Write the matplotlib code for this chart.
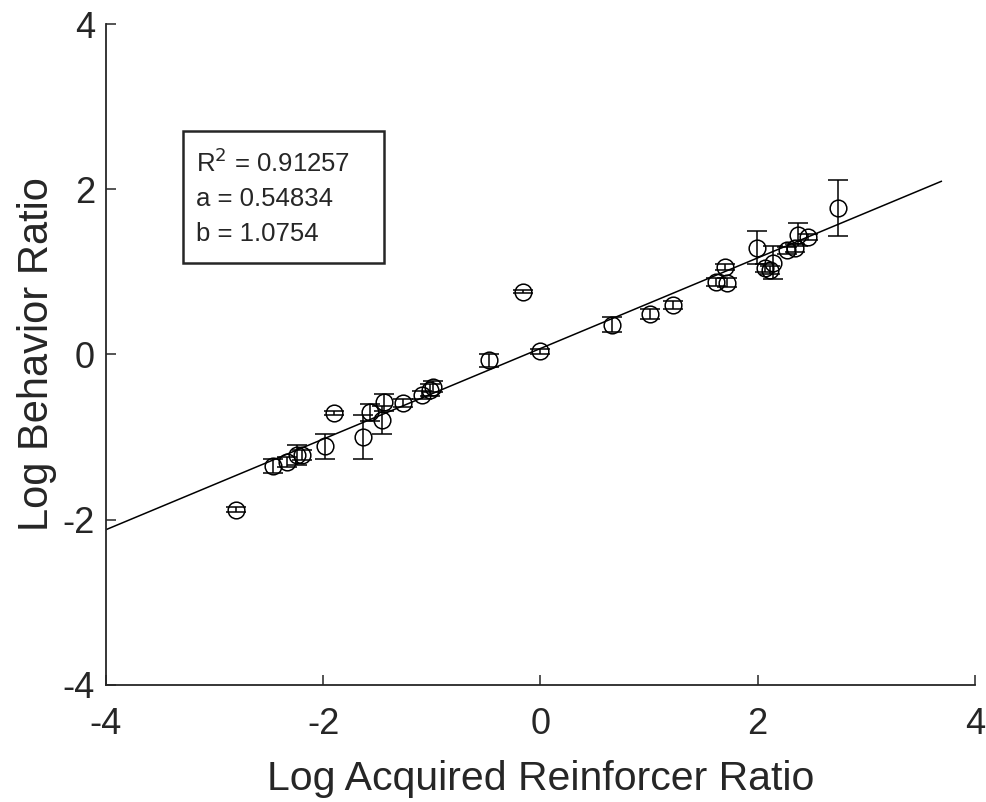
import numpy as np
import matplotlib
matplotlib.use("Agg")
from matplotlib import pyplot as plt
from matplotlib.patches import Rectangle

# data
log_r = [-2.80, -2.46, -2.33, -2.24, -2.20, -1.98, -1.90, -1.63, -1.57, -1.46,
         -1.44, -1.27, -1.09, -1.02, -0.99, -0.47, -0.16, 0.00, 0.66, 1.01,
         1.22, 1.62, 1.72, 1.70, 1.99, 2.07, 2.14, 2.11, 2.27, 2.34,
         2.37, 2.46, 2.74]
log_b = [-1.88, -1.35, -1.30, -1.22, -1.22, -1.11, -0.71, -1.00, -0.70, -0.79,
         -0.58, -0.59, -0.49, -0.43, -0.39, -0.07, 0.76, 0.04, 0.36, 0.49,
         0.60, 0.88, 0.87, 1.06, 1.29, 1.05, 1.11, 1.02, 1.26, 1.29,
         1.45, 1.42, 1.77]
err = [0.03, 0.08, 0.06, 0.12, 0.06, 0.15, 0.02, 0.27, 0.10, 0.17,
       0.10, 0.05, 0.05, 0.07, 0.07, 0.08, 0.02, 0.03, 0.09, 0.06,
       0.05, 0.05, 0.05, 0.04, 0.20, 0.05, 0.20, 0.05, 0.04, 0.05,
       0.14, 0.04, 0.34]

r2 = 0.91257
a = 0.54834
b = 1.0754
fit_x = [-4, 3.69]

dark = "#262626"
plt.rcParams["font.family"] = ["Liberation Sans", "DejaVu Sans"]
plt.rcParams["axes.unicode_minus"] = False

fig = plt.figure(figsize=(9.86, 8.02), dpi=100)
ax = fig.add_axes([0.1075, 0.146, 0.8813, 0.824])

ax.errorbar(log_r, log_b, yerr=err, fmt="o", mfc="none", mec="black", ecolor="black",
            ms=12, mew=1.1, elinewidth=1.1, capsize=7.5, capthick=1.1, zorder=3)

fx = np.array(fit_x)
ax.plot(fx, a * fx + np.log(b), color="black", lw=1.1, zorder=2)

ax.set_xlim(-4, 4)
ax.set_ylim(-4, 4)
ax.set_xticks([-4, -2, 0, 2, 4])
ax.set_yticks([-4, -2, 0, 2, 4])
for side in ["top", "right"]:
    ax.spines[side].set_visible(False)
for side in ["left", "bottom"]:
    ax.spines[side].set_color(dark)
    ax.spines[side].set_linewidth(1.3)
ax.tick_params(direction="in", length=7, width=1.1, color=dark, labelcolor=dark,
               labelsize=26)
ax.tick_params(axis="x", pad=16)
ax.tick_params(axis="y", pad=8)

ax.set_xlabel("Log Acquired Reinforcer Ratio", fontsize=29.5, color=dark, labelpad=13)
ax.set_ylabel("Log Behavior Ratio", fontsize=30, color=dark, labelpad=4)

# annotation box with fit stats
ax.add_patch(Rectangle((0.0886, 0.6384), 0.2313, 0.1997, transform=ax.transAxes,
                       fc="white", ec=dark, lw=1.8, zorder=4))
txt = "R$^2$ = %.5f\na = %.5f\nb = %.4f" % (r2, a, b)
ax.text(0.1036, 0.812, txt, transform=ax.transAxes, fontsize=18.5, color=dark,
        va="top", ha="left", linespacing=1.55, zorder=5)

fig.savefig("out.png", dpi=100)
